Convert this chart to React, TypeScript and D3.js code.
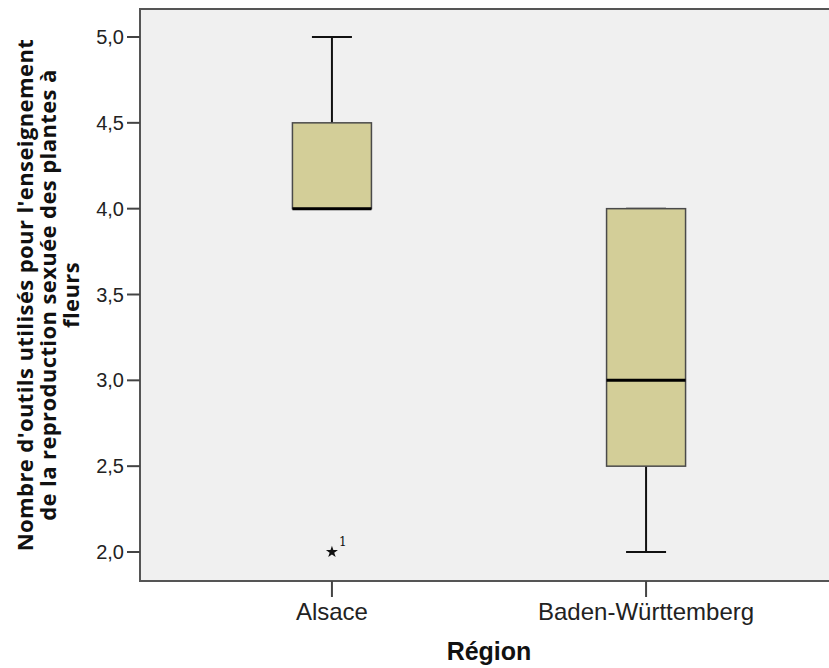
import React from "react";
import * as d3 from "d3";

const categories = ["Alsace", "Baden-Württemberg"];
const q1 = [4.0, 2.5];
const median = [4.0, 3.0];
const q3 = [4.5, 4.0];
const whiskerLow = [4.0, 2.0];
const whiskerHigh = [5.0, 4.0];
const outliers = [{ cat: "Alsace", value: 2.0, label: "1" }];
const yTicks = [2.0, 2.5, 3.0, 3.5, 4.0, 4.5, 5.0];
const yTitleLines = [
  "Nombre d'outils utilisés pour l'enseignement",
  "de la reproduction sexuée des plantes à",
  "fleurs",
];
const xTitle = "Région";

const W = 829;
const H = 668;
const plotLeft = 140;
const plotRight = 838;
const plotTop = 9;
const plotBottom = 581;

export default function App() {
  const y = d3.scaleLinear().domain([2, 5]).range([552, 37]);
  const x = d3
    .scalePoint<string>()
    .domain(categories)
    .range([plotLeft, plotRight])
    .padding(0.611);
  const boxW = 79;
  const capW = 40;
  const fmt = (v: number) => v.toFixed(1).replace(".", ",");
  const boxFill = "#d3ce98";
  const titleCy = (plotTop + plotBottom) / 2;
  const titleX = [33, 56, 79];

  return (
    <svg
      width={W}
      height={H}
      style={{ position: "absolute", left: 0, top: 0, background: "#fff" }}
    >
      <rect
        x={plotLeft}
        y={plotTop}
        width={plotRight - plotLeft}
        height={plotBottom - plotTop}
        fill="#f0f0f0"
        stroke="#555"
        strokeWidth={2}
      />
      {categories.map((c, i) => {
        const cx = x(c)!;
        return (
          <g key={c}>
            <line x1={cx} x2={cx} y1={y(q3[i])} y2={y(whiskerHigh[i])} stroke="#111" strokeWidth={2} />
            <line x1={cx} x2={cx} y1={y(q1[i])} y2={y(whiskerLow[i])} stroke="#111" strokeWidth={2} />
            <line x1={cx - capW / 2} x2={cx + capW / 2} y1={y(whiskerHigh[i])} y2={y(whiskerHigh[i])} stroke="#111" strokeWidth={2} />
            <line x1={cx - capW / 2} x2={cx + capW / 2} y1={y(whiskerLow[i])} y2={y(whiskerLow[i])} stroke="#111" strokeWidth={2} />
            <rect
              x={cx - boxW / 2}
              y={y(q3[i])}
              width={boxW}
              height={y(q1[i]) - y(q3[i])}
              fill={boxFill}
              stroke="#4a4a4a"
              strokeWidth={1.5}
            />
            <line x1={cx - boxW / 2} x2={cx + boxW / 2} y1={y(median[i])} y2={y(median[i])} stroke="#000" strokeWidth={3} />
          </g>
        );
      })}
      {outliers.map((o, i) => {
        const cx = x(o.cat)!;
        const cy = y(o.value);
        return (
          <g key={i}>
            <path d={d3.symbol(d3.symbolStar, 45)()!} transform={`translate(${cx},${cy})`} fill="#111" />
            <text x={cx + 7} y={cy - 6} fontFamily="DejaVu Serif" fontSize={12} fill="#111">
              {o.label}
            </text>
          </g>
        );
      })}
      {yTicks.map((t) => (
        <g key={t}>
          <line x1={127} x2={plotLeft} y1={y(t)} y2={y(t)} stroke="#444" strokeWidth={2} />
          <text
            x={124}
            y={y(t)}
            dy="0.35em"
            textAnchor="end"
            fontFamily="Liberation Sans, Arial, sans-serif"
            fontSize={20}
            fill="#222"
          >
            {fmt(t)}
          </text>
        </g>
      ))}
      {categories.map((c) => (
        <g key={c}>
          <line x1={x(c)!} x2={x(c)!} y1={plotBottom} y2={597} stroke="#444" strokeWidth={2} />
          <text
            x={x(c)!}
            y={620}
            textAnchor="middle"
            fontFamily="Liberation Sans, Arial, sans-serif"
            fontSize={24}
            fill="#222"
          >
            {c}
          </text>
        </g>
      ))}
      <text
        x={489}
        y={660}
        textAnchor="middle"
        fontFamily="Liberation Sans, Arial, sans-serif"
        fontWeight="bold"
        fontSize={25}
        fill="#111"
      >
        {xTitle}
      </text>
      {yTitleLines.map((l, i) => (
        <text
          key={i}
          transform={`translate(${titleX[i]},${titleCy}) rotate(-90)`}
          textAnchor="middle"
          fontFamily="Open Sans, sans-serif"
          fontWeight="bold"
          fontSize={22}
          letterSpacing={0.4}
          fill="#111"
        >
          {l}
        </text>
      ))}
    </svg>
  );
}
